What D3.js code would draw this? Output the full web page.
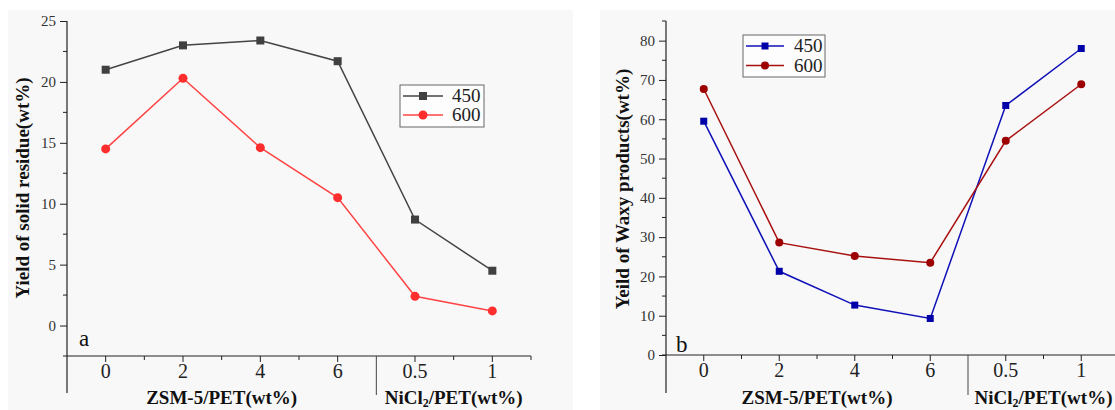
<!DOCTYPE html>
<html>
<head>
<meta charset="utf-8">
<script src="https://cdn.jsdelivr.net/npm/d3@7"></script>
<style>
  body { margin: 0; background: #fff; }
  svg { display: block; font-family: "Liberation Serif", "Times New Roman", serif; }
</style>
</head>
<body>
<svg width="1115" height="410"></svg>
<script>
// x categories (two groups: ZSM-5 loading, NiCl2 loading)
const categories = ['0', '2', '4', '6', '0.5', '1'];
const groupLabels = ['ZSM-5/PET(wt%)', 'NiCl2/PET(wt%)'];
const seriesNames = ['450', '600'];

// panel a: solid residue
const solid450 = [21.0, 23.0, 23.4, 21.7, 8.7, 4.5];
const solid600 = [14.5, 20.3, 14.6, 10.5, 2.4, 1.2];
const solidTicks = [0, 5, 10, 15, 20, 25];
const solidMinor = [2.5, 7.5, 12.5, 17.5, 22.5];

// panel b: waxy products
const waxy450 = [59.5, 21.3, 12.7, 9.3, 63.5, 78.0];
const waxy600 = [67.7, 28.6, 25.2, 23.5, 54.5, 68.9];
const waxyTicks = [0, 10, 20, 30, 40, 50, 60, 70, 80];
const waxyMinor = [5, 15, 25, 35, 45, 55, 65, 75, 85];

const svg = d3.select('svg');

function drawPanel(cfg) {
  const g = svg.append('g');

  g.append('rect')
    .attr('x', cfg.bg[0]).attr('y', 10)
    .attr('width', cfg.bg[1] - cfg.bg[0]).attr('height', 400)
    .attr('fill', '#f8f8f8');

  const x = d3.scalePoint()
    .domain(categories)
    .range([cfg.left, cfg.right])
    .padding(0.5);
  const step = x.step();

  const y = d3.scaleLinear()
    .domain(cfg.yDomain)
    .range([cfg.bottom, cfg.top]);

  const axisY = y(cfg.yDomain[0]);

  // y axis
  const yAxis = g.append('g')
    .attr('transform', `translate(${cfg.left},0)`)
    .call(d3.axisLeft(y).tickValues(cfg.ticks).tickSize(7).tickPadding(4).tickSizeOuter(0));
  yAxis.select('.domain').remove();
  yAxis.selectAll('text').attr('font-size', 15).attr('fill', '#333')
    .attr('font-family', '"Liberation Serif", serif');
  yAxis.selectAll('line').attr('stroke', '#222');

  g.selectAll('.yminor')
    .data(cfg.minor)
    .enter()
    .append('line')
    .attr('x1', cfg.left - 4).attr('x2', cfg.left)
    .attr('y1', d => y(d)).attr('y2', d => y(d))
    .attr('stroke', '#222');

  // y axis line goes down past x axis
  g.append('line')
    .attr('x1', cfg.left).attr('x2', cfg.left)
    .attr('y1', cfg.top).attr('y2', 393)
    .attr('stroke', '#222').attr('stroke-width', 1.2);

  // x axis
  g.append('line')
    .attr('x1', cfg.left - 4).attr('x2', cfg.right)
    .attr('y1', axisY).attr('y2', axisY)
    .attr('stroke', '#222').attr('stroke-width', 1.2);

  g.selectAll('.xmajor')
    .data(categories)
    .enter()
    .append('line')
    .attr('x1', d => x(d)).attr('x2', d => x(d))
    .attr('y1', axisY).attr('y2', axisY + 6)
    .attr('stroke', '#222');

  g.selectAll('.xminor')
    .data(categories.filter((d, i) => i !== 3))
    .enter()
    .append('line')
    .attr('x1', d => x(d) + step / 2).attr('x2', d => x(d) + step / 2)
    .attr('y1', axisY).attr('y2', axisY + 4)
    .attr('stroke', '#222');

  // divider between groups
  const divX = x(categories[3]) + step / 2;
  g.append('line')
    .attr('x1', divX).attr('x2', divX)
    .attr('y1', axisY).attr('y2', 395)
    .attr('stroke', '#444');

  g.selectAll('.xlab')
    .data(categories)
    .enter()
    .append('text')
    .attr('x', d => x(d))
    .attr('y', axisY + 22)
    .attr('text-anchor', 'middle')
    .attr('font-size', 20)
    .attr('fill', '#222')
    .text(d => d);

  // group labels
  const g1 = (x(categories[0]) + x(categories[3])) / 2;
  const g2 = (x(categories[4]) + x(categories[5])) / 2;
  g.append('text')
    .attr('x', g1).attr('y', 404)
    .attr('text-anchor', 'middle')
    .attr('font-size', 19).attr('font-weight', 'bold').attr('fill', '#111')
    .text(groupLabels[0]);
  const t2 = g.append('text')
    .attr('x', g2).attr('y', 404)
    .attr('text-anchor', 'middle')
    .attr('font-size', 19).attr('font-weight', 'bold').attr('fill', '#111');
  t2.append('tspan').text('NiCl');
  t2.append('tspan').attr('font-size', 12).attr('dy', 3).text('2');
  t2.append('tspan').attr('dy', -3).text('/PET(wt%)');

  // y title
  g.append('text')
    .attr('transform', `translate(${cfg.titleX},${cfg.titleY}) rotate(-90)`)
    .attr('text-anchor', 'middle')
    .attr('font-size', 19).attr('font-weight', 'bold').attr('fill', '#111')
    .text(cfg.title);

  // panel letter
  g.append('text')
    .attr('x', cfg.letterPos[0]).attr('y', cfg.letterPos[1])
    .attr('font-size', 23).attr('fill', '#111')
    .text(cfg.letter);

  // series
  const line = d3.line()
    .x((d, i) => x(categories[i]))
    .y(d => y(d));

  cfg.series.forEach((s, k) => {
    g.append('path')
      .datum(s.values)
      .attr('d', line)
      .attr('fill', 'none')
      .attr('stroke', s.color)
      .attr('stroke-width', 1.5);
    if (k === 0) {
      g.selectAll(null)
        .data(s.values)
        .enter()
        .append('rect')
        .attr('x', (d, i) => x(categories[i]) - cfg.sq / 2)
        .attr('y', d => y(d) - cfg.sq / 2)
        .attr('width', cfg.sq).attr('height', cfg.sq)
        .attr('fill', s.marker);
    } else {
      g.selectAll(null)
        .data(s.values)
        .enter()
        .append('circle')
        .attr('cx', (d, i) => x(categories[i]))
        .attr('cy', d => y(d))
        .attr('r', cfg.r)
        .attr('fill', s.marker);
    }
  });

  // legend
  const lg = cfg.legend;
  g.append('rect')
    .attr('x', lg.x).attr('y', lg.y)
    .attr('width', lg.w).attr('height', lg.h)
    .attr('fill', '#fdfdfd')
    .attr('stroke', '#666').attr('stroke-width', 1);
  cfg.series.forEach((s, k) => {
    const ry = lg.rows[k];
    g.append('line')
      .attr('x1', lg.x + 3).attr('x2', lg.x + 3 + lg.lineW)
      .attr('y1', ry).attr('y2', ry)
      .attr('stroke', s.color).attr('stroke-width', 1.5);
    const mx = lg.x + 3 + lg.lineW / 2;
    if (k === 0) {
      g.append('rect')
        .attr('x', mx - cfg.sq / 2).attr('y', ry - cfg.sq / 2)
        .attr('width', cfg.sq).attr('height', cfg.sq)
        .attr('fill', s.marker);
    } else {
      g.append('circle')
        .attr('cx', mx).attr('cy', ry).attr('r', cfg.r)
        .attr('fill', s.marker);
    }
    g.append('text')
      .attr('x', lg.textX).attr('y', ry + 6)
      .attr('font-size', 19).attr('fill', '#222')
      .text(seriesNames[k]);
  });
}

drawPanel({
  bg: [8, 573],
  left: 67, right: 531, top: 21, bottom: 356,
  yDomain: [-2.5, 25],
  ticks: solidTicks, minor: solidMinor,
  title: 'Yield of solid residue(wt%)', titleX: 29, titleY: 188,
  letter: 'a', letterPos: [79, 346],
  sq: 8, r: 4.5,
  series: [
    { values: solid450, color: '#444', marker: '#404040' },
    { values: solid600, color: '#ff4444', marker: '#ff2e2e' }
  ],
  legend: { x: 400, y: 85, w: 84, h: 42, rows: [96, 115], lineW: 40, textX: 452 }
});

drawPanel({
  bg: [600, 1115],
  left: 666, right: 1119, top: 21, bottom: 355,
  yDomain: [0, 85],
  ticks: waxyTicks, minor: waxyMinor,
  title: 'Yeild of Waxy products(wt%)', titleX: 629, titleY: 189,
  letter: 'b', letterPos: [676, 352],
  sq: 7, r: 4,
  series: [
    { values: waxy450, color: '#1010b8', marker: '#0000a8' },
    { values: waxy600, color: '#a81010', marker: '#9c0000' }
  ],
  legend: { x: 743, y: 35, w: 82, h: 42, rows: [46, 65.5], lineW: 38, textX: 794 }
});
</script>
</body>
</html>
